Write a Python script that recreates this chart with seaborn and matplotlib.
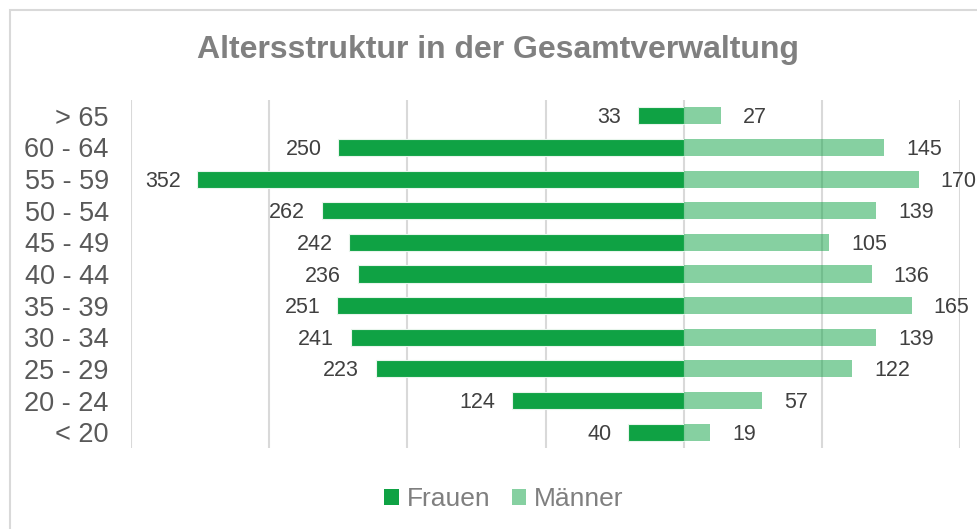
import pandas as pd
import numpy as np
import matplotlib
matplotlib.use("Agg")
import matplotlib.pyplot as plt
import seaborn as sns
from matplotlib.patches import Patch, Rectangle

# data (top to bottom)
age_groups = ["> 65", "60 - 64", "55 - 59", "50 - 54", "45 - 49", "40 - 44",
              "35 - 39", "30 - 34", "25 - 29", "20 - 24", "< 20"]
frauen = [33, 250, 352, 262, 242, 236, 251, 241, 223, 124, 40]
maenner = [27, 145, 170, 139, 105, 136, 165, 139, 122, 57, 19]

green = "#0FA244"

df = pd.DataFrame({"Alter": age_groups,
                   "Frauen": [-v for v in frauen],
                   "Männer": maenner})

sns.set_style("white")
plt.rcParams['font.family'] = ['Liberation Sans', 'DejaVu Sans']

fig = plt.figure(figsize=(9.78, 5.29), dpi=100)
ax = fig.add_axes([131/978, 1 - 448/529, (960 - 131)/978, (448 - 100)/529])

# gridlines first so bars sit over them
for x in range(-400, 201, 100):
    ax.axvline(x, color="#D9D9D9", lw=1.5, zorder=0)

sns.barplot(data=df, y="Alter", x="Frauen", orient="h", color=green,
            width=0.54, saturation=1, edgecolor="#E8F5EC", linewidth=0.8,
            ax=ax, zorder=2)
sns.barplot(data=df, y="Alter", x="Männer", orient="h", color=green,
            alpha=0.5, width=0.54, saturation=1, linewidth=0, ax=ax, zorder=2)

ax.set_xlim(-400, 200)
ax.set_ylim(10.5, -0.5)
ax.set_xlabel("")
ax.set_ylabel("")
ax.set_xticks([])
ax.tick_params(axis="y", length=0, pad=16, labelsize=19.5, labelcolor="#595959")
for s in ax.spines.values():
    s.set_visible(False)

# value labels
for i, (f, m) in enumerate(zip(frauen, maenner)):
    ax.annotate(str(f), (-f, i), xytext=(-12, -1.5), textcoords="offset points",
                ha="right", va="center", fontsize=15.5, color="#404040")
    ax.annotate(str(m), (m, i), xytext=(16, -1.5), textcoords="offset points",
                ha="left", va="center", fontsize=15.5, color="#404040")

fig.text(498/978, 1 - 50/529, "Altersstruktur in der Gesamtverwaltung",
         ha="center", va="center", fontsize=23, fontweight="bold",
         color="#808080")

handles = [Patch(facecolor=green, edgecolor="none", label="Frauen"),
           Patch(facecolor=green, alpha=0.5, edgecolor="none", label="Männer")]
fig.legend(handles=handles, loc="center", ncol=2,
           bbox_to_anchor=(504/978, 1 - 499/529), frameon=False,
           fontsize=19, labelcolor="#7F7F7F", handlelength=0.55,
           handleheight=0.55, handletextpad=0.3, columnspacing=0.8)

# chart-area frame
fig.patches.append(Rectangle((10/978, -0.1), 1.2, 1 - 10/529 + 0.1,
                             transform=fig.transFigure, fill=False,
                             edgecolor="#D9D9D9", lw=1.5))

fig.savefig("out.png", dpi=100)
